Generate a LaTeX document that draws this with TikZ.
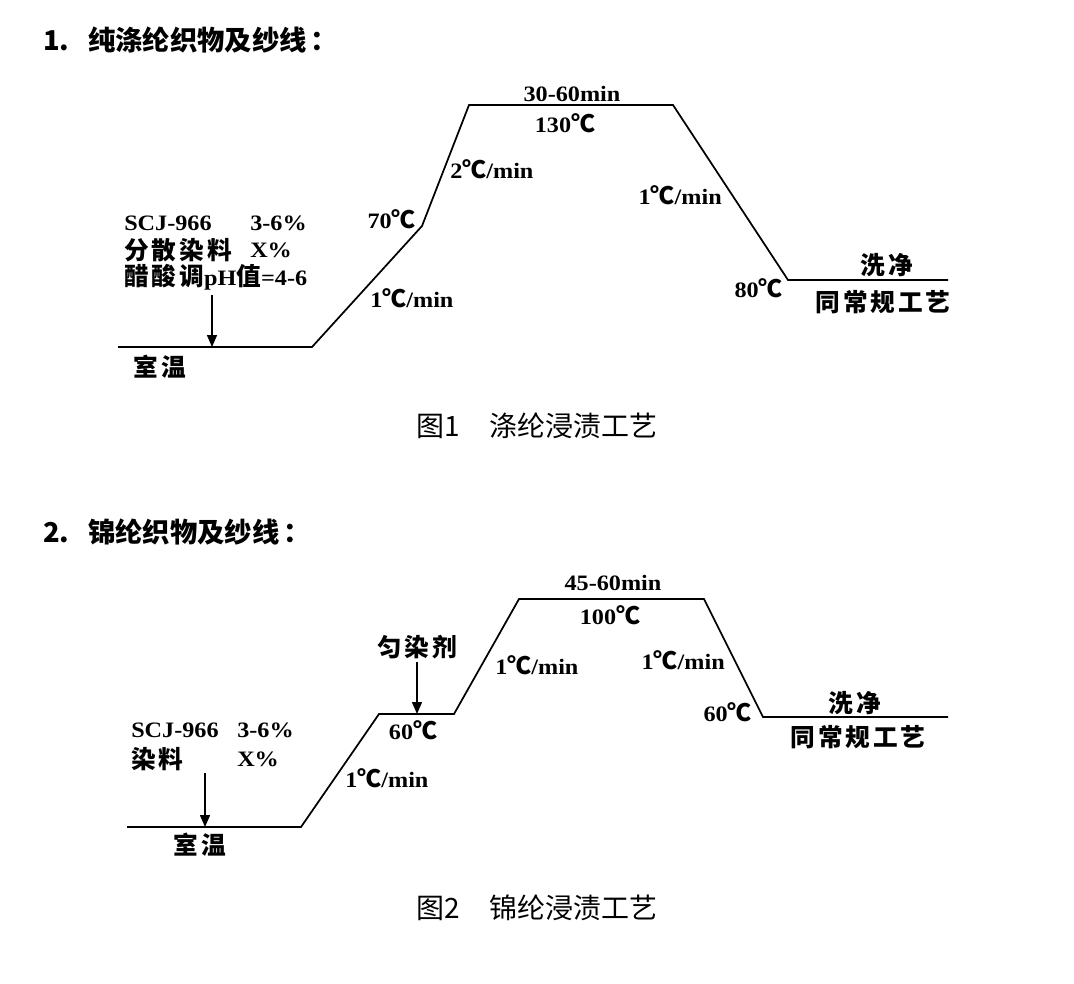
\documentclass[tikz,border=0pt]{standalone}
\usepackage{fontspec}
\setmainfont{Liberation Serif}
\newfontfamily\cjk{Noto Sans CJK SC}
\newfontfamily\cjks[LetterSpace=12]{Noto Sans CJK SC}
\newfontfamily\lat[FakeStretch=1.1]{Liberation Serif}
\usetikzlibrary{arrows.meta}
\newcommand{\zh}[1]{{\cjks\bfseries\fontsize{18.5}{22}\selectfont #1}}
\newcommand{\dc}{{\cjk\bfseries\fontsize{18}{20}\selectfont ℃}}

\begin{document}
\begin{tikzpicture}[x=0.75pt,y=-0.75pt,
    every node/.style={inner sep=0pt},
    lab/.style={font=\lat\bfseries\fontsize{16.5}{18}\selectfont},
    hz/.style={font=\cjks\bfseries\fontsize{18.5}{22}\selectfont},
    head/.style={font=\cjk\bfseries\fontsize{20.5}{24}\selectfont,anchor=west},
    figcap/.style={font=\cjk\fontsize{21}{24}\selectfont},
    procline/.style={line width=1.3pt},
    >={Triangle[length=9pt,width=7.5pt]}]
\useasboundingbox (0,0) rectangle (1074,983);

\node[head] (h1) at (43,40) {1.\hspace{14pt}纯涤纶织物及纱线\hspace{3pt}：};
\node[head] (h2) at (43,532) {2.\hspace{14pt}锦纶织物及纱线\hspace{3pt}：};
\node[figcap] (fig1) at (537,426) {图1\hspace{22pt}涤纶浸渍工艺};
\node[figcap] (fig2) at (537,908) {图2\hspace{22pt}锦纶浸渍工艺};

\coordinate (a0) at (118,347);
\coordinate (a1) at (312,347);
\coordinate (a2) at (422,226);
\coordinate (a3) at (469,105);
\coordinate (a4) at (673,105);
\coordinate (a5) at (788,280);
\coordinate (a6) at (948,280);
\draw[procline] (a0) -- (a1) -- (a2) -- (a3) -- (a4) -- (a5) -- (a6);

\node[lab,anchor=west] (scj1) at (124,223) {SCJ-966};
\node[lab,anchor=west] (pct1) at (250,223) {3-6\%};
\node[hz,anchor=west] (dye1) at (124,250) {分散染料};
\node[lab,anchor=west] (x1) at (250,250) {X\%};
\node[lab,anchor=west] (ph1) at (124,277) {\zh{醋酸调}pH\zh{值}=4-6};
\coordinate (add1) at (212,295);
\coordinate (in1) at (212,347);
\draw[->,line width=1.1pt] (add1) -- (in1);
\node[hz] (room1) at (160,367) {室温};
\node[lab,anchor=west] (r1) at (370,298) {1\dc/min};
\node[lab,anchor=east] (t70) at (416,219) {70\dc};
\node[lab,anchor=west] (r2) at (450,169) {2\dc/min};
\node[lab] (time1) at (572,94) {30-60min};
\node[lab] (t130) at (565,123) {130\dc};
\node[lab,anchor=east] (r3) at (722,195) {1\dc/min};
\node[lab,anchor=east] (t80) at (783,288) {80\dc};
\node[hz] (wash1) at (887,265) {洗净};
\node[hz] (std1) at (883,302) {同常规工艺};

\coordinate (b0) at (127,827);
\coordinate (b1) at (301,827);
\coordinate (b2) at (379,714);
\coordinate (b3) at (454,714);
\coordinate (b4) at (519,599);
\coordinate (b5) at (704,599);
\coordinate (b6) at (763,717);
\coordinate (b7) at (948,717);
\draw[procline] (b0) -- (b1) -- (b2) -- (b3) -- (b4) -- (b5) -- (b6) -- (b7);

\node[lab,anchor=west] (scj2) at (131,730) {SCJ-966};
\node[lab,anchor=west] (pct2) at (237,730) {3-6\%};
\node[hz,anchor=west] (dye2) at (131,759) {染料};
\node[lab,anchor=west] (x2) at (237,759) {X\%};
\coordinate (add2) at (205,773);
\coordinate (in2) at (205,827);
\draw[->,line width=1.1pt] (add2) -- (in2);
\node[hz] (room2) at (200,845) {室温};
\node[lab,anchor=west] (r4) at (345,778) {1\dc/min};
\node[lab] (t60a) at (413,730) {60\dc};
\node[hz] (lev) at (417,647) {匀染剂};
\coordinate (add3) at (417,662);
\coordinate (in3) at (417,714);
\draw[->,line width=1.1pt] (add3) -- (in3);
\node[lab,anchor=west] (r5) at (495,665) {1\dc/min};
\node[lab] (time2) at (613,583) {45-60min};
\node[lab] (t100) at (610,615) {100\dc};
\node[lab,anchor=east] (r6) at (725,660) {1\dc/min};
\node[lab,anchor=east] (t60b) at (752,712) {60\dc};
\node[hz] (wash2) at (855,703) {洗净};
\node[hz] (std2) at (858,737) {同常规工艺};
\end{tikzpicture}
\end{document}
